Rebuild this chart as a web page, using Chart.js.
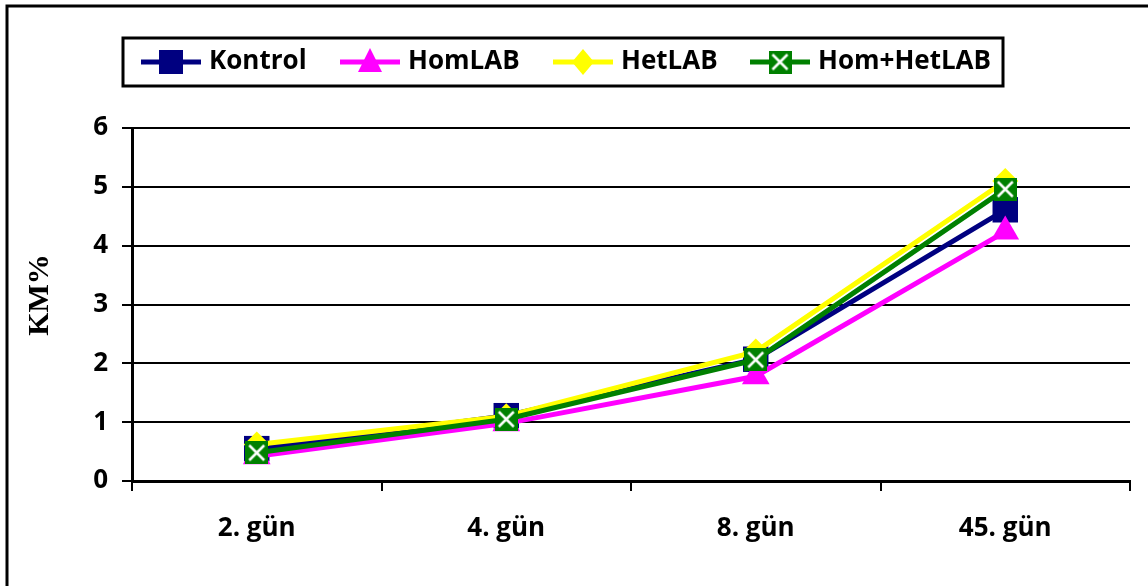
<!DOCTYPE html>
<html>
<head>
<meta charset="utf-8">
<script src="https://cdn.jsdelivr.net/npm/chart.js@4.4.1/dist/chart.umd.min.js"></script>
<style>
  body { margin: 0; background: #fff; }
  #wrap { width: 1148px; height: 586px; }
</style>
</head>
<body>
<div id="wrap"><canvas id="myChart" width="1148" height="586"></canvas></div>
<script>
// data
const days = ["2. gün", "4. gün", "8. gün", "45. gün"];
const kontrol = [0.55, 1.11, 2.07, 4.61];
const homLab = [0.42, 0.98, 1.78, 4.24];
const hetLab = [0.62, 1.1, 2.2, 5.1];
const homHetLab = [0.48, 1.05, 2.06, 4.96];
const seriesNames = ["Kontrol", "HomLAB", "HetLAB", "Hom+HetLAB"];
const yTicks = [0, 1, 2, 3, 4, 5, 6];
const yTitle = "KM%";

const NAVY = "#000080";
const MAGENTA = "#FF00FF";
const YELLOW = "#FFFF00";
const GREEN = "#008000";

const tickFont = { family: "Open Sans", weight: "bold", size: 26 };

// green square with a white cross, used as marker
function crossBox(size) {
  const c = document.createElement("canvas");
  c.width = size;
  c.height = size;
  const g = c.getContext("2d");
  g.fillStyle = GREEN;
  g.fillRect(0, 0, size, size);
  g.strokeStyle = "#fff";
  g.lineWidth = 2.5;
  g.beginPath();
  g.moveTo(4, 4);
  g.lineTo(size - 4, size - 4);
  g.moveTo(size - 4, 4);
  g.lineTo(4, size - 4);
  g.stroke();
  return c;
}
const crossImg = crossBox(23);

// small shape drawing for the legend
function drawMarker(ctx, kind, x, y) {
  ctx.save();
  if (kind === "rect") {
    ctx.fillStyle = NAVY;
    ctx.fillRect(x - 12, y - 12, 24, 24);
  } else if (kind === "triangle") {
    ctx.fillStyle = MAGENTA;
    ctx.beginPath();
    ctx.moveTo(x, y - 14);
    ctx.lineTo(x + 12, y + 10);
    ctx.lineTo(x - 12, y + 10);
    ctx.closePath();
    ctx.fill();
  } else if (kind === "diamond") {
    ctx.fillStyle = YELLOW;
    ctx.beginPath();
    ctx.moveTo(x, y - 13);
    ctx.lineTo(x + 11, y);
    ctx.lineTo(x, y + 13);
    ctx.lineTo(x - 11, y);
    ctx.closePath();
    ctx.fill();
  } else {
    ctx.drawImage(crossImg, x - 11.5, y - 11.5);
  }
  ctx.restore();
}

const legendItems = [
  { x: 141, color: NAVY, kind: "rect" },
  { x: 340, color: MAGENTA, kind: "triangle" },
  { x: 553, color: YELLOW, kind: "diamond" },
  { x: 750, color: GREEN, kind: "cross" },
];

const framePlugin = {
  id: "frame",
  afterDraw(chart) {
    const ctx = chart.ctx;
    ctx.save();
    // outer border
    ctx.strokeStyle = "#000";
    ctx.lineWidth = 3;
    ctx.strokeRect(7, 6, 1160, 600);
    // legend box
    ctx.strokeRect(123, 38, 880, 48);
    ctx.lineWidth = 5;
    legendItems.forEach((item, i) => {
      ctx.strokeStyle = item.color;
      ctx.beginPath();
      ctx.moveTo(item.x, 62);
      ctx.lineTo(item.x + 60, 62);
      ctx.stroke();
      drawMarker(ctx, item.kind, item.x + 30, 62);
      ctx.fillStyle = "#000";
      ctx.font = "bold 26px 'Open Sans'";
      ctx.textBaseline = "middle";
      ctx.fillText(seriesNames[i], item.x + 68, 62);
    });
    // y axis title
    ctx.translate(40, 295);
    ctx.rotate(-Math.PI / 2);
    ctx.font = "bold 30px 'Liberation Serif'";
    ctx.textAlign = "center";
    ctx.textBaseline = "middle";
    ctx.fillText(yTitle, 0, 0);
    ctx.restore();
  },
};

new Chart(document.getElementById("myChart"), {
  type: "line",
  data: {
    labels: days,
    datasets: [
      {
        label: seriesNames[0],
        data: kontrol,
        borderColor: NAVY,
        backgroundColor: NAVY,
        pointStyle: "rect",
        pointRadius: 18,
        pointBorderWidth: 0,
        order: 3,
      },
      {
        label: seriesNames[1],
        data: homLab,
        borderColor: MAGENTA,
        backgroundColor: MAGENTA,
        pointStyle: "triangle",
        pointRadius: 16,
        pointBorderWidth: 0,
        order: 2,
      },
      {
        label: seriesNames[2],
        data: hetLab,
        borderColor: YELLOW,
        backgroundColor: YELLOW,
        pointStyle: "rectRot",
        pointRadius: 13,
        pointBorderWidth: 0,
        order: 1,
      },
      {
        label: seriesNames[3],
        data: homHetLab,
        borderColor: GREEN,
        backgroundColor: GREEN,
        pointStyle: crossImg,
        pointRadius: 12,
        pointBorderWidth: 0,
        order: 0,
      },
    ],
  },
  options: {
    responsive: false,
    animation: false,
    events: [],
    clip: false,
    layout: { padding: { top: 128, right: 17, bottom: 0, left: 0 } },
    elements: { line: { borderWidth: 5, tension: 0 } },
    plugins: { legend: { display: false }, tooltip: { enabled: false } },
    scales: {
      x: {
        offset: true,
        grid: {
          offset: true,
          drawOnChartArea: false,
          color: "#000",
          lineWidth: 2,
          tickLength: 10,
        },
        border: { color: "#000", width: 3 },
        ticks: { color: "#000", font: tickFont, padding: 22, maxRotation: 0 },
        afterFit(scale) {
          scale.height = 105;
        },
      },
      y: {
        min: 0,
        max: 6,
        afterBuildTicks(scale) {
          scale.ticks = yTicks.map((v) => ({ value: v }));
        },
        grid: { color: "#000", lineWidth: 2, tickLength: 10 },
        border: { color: "#000", width: 3 },
        ticks: { color: "#000", font: tickFont, padding: 14 },
        afterFit(scale) {
          scale.width = 132;
        },
      },
    },
  },
  plugins: [framePlugin],
});
</script>
</body>
</html>
